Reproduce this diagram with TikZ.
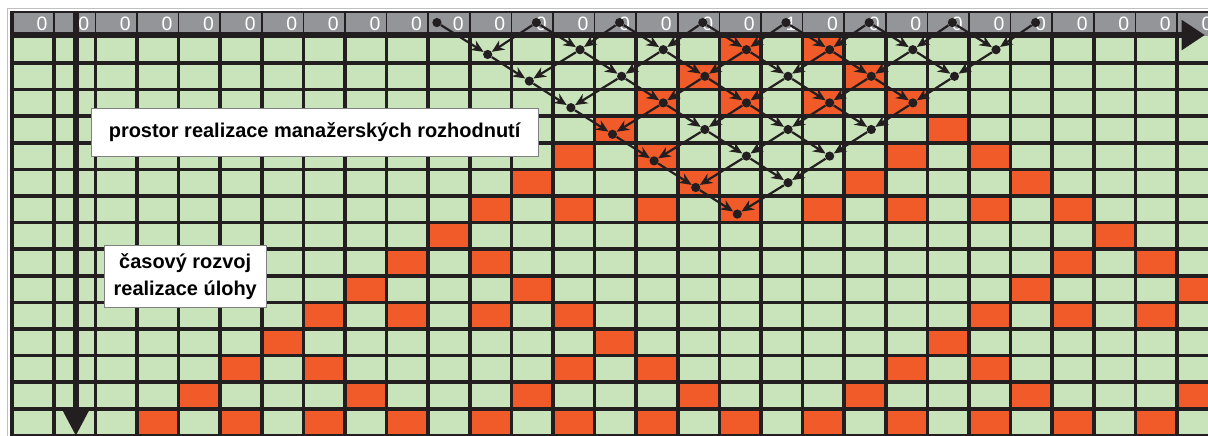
\documentclass[tikz,border=0pt]{standalone}
\usepackage{fontspec}
\setmainfont{Liberation Sans}
\usetikzlibrary{arrows.meta,positioning}
\definecolor{cellgreen}{RGB}{201,227,186}
\definecolor{cellorange}{RGB}{241,90,41}
\definecolor{headgray}{RGB}{147,149,152}
\definecolor{inkblack}{RGB}{35,31,32}

\begin{document}
\begin{tikzpicture}[x=1.04cm, y=-0.665cm,
    gridline/.style={inkblack, line width=0.09cm},
    sepline/.style={inkblack, line width=0.04cm},
    axis/.style={inkblack, line width=0.15cm},
    val/.style={text=white, font=\fontsize{13.8}{14}\selectfont, inner sep=0pt},
    dot/.style={circle, fill=inkblack, inner sep=0pt, minimum size=2.3mm},
    dep/.style={inkblack, line width=0.055cm, -{Stealth[length=3.1mm, width=2.7mm]}},
    note/.style={draw=gray, fill=white, line width=0.6pt, align=center,
        font=\fontsize{14.2}{19}\selectfont\bfseries}
]
\useasboundingbox (-0.293,-1.368) rectangle (28.745,15.02);
\clip (-0.293,-1.368) rectangle (28.745,15.02);

% cells
\fill[cellgreen] (0,0) rectangle (29,15.2);
\foreach \r/\cl in {0/{17,19}, 1/{16,20}, 2/{15,17,19,21}, 3/{14,22},
    4/{13,15,21,23}, 5/{12,16,20,24}, 6/{11,13,15,17,19,21,23,25},
    7/{10,26}, 8/{9,11,25,27}, 9/{8,12,24,28}, 10/{7,9,11,13,23,25,27},
    11/{6,14,22}, 12/{5,7,13,15,21,23}, 13/{4,8,12,16,20,24,28},
    14/{3,5,7,9,11,13,15,17,19,21,23,25,27}}
  \foreach \c in \cl
    \fill[cellorange] (\c,\r) rectangle ++(1,1);
\foreach \c in {0,...,29}
  \draw[gridline] (\c,0) -- (\c,15.2);
\foreach \r in {1,...,15}
  \draw[gridline] (0,\r) -- (29,\r);

% header row with the starting values
\draw[gray!50, line width=0.4pt] (-0.125,-1.07) rectangle (30,16);
\fill[headgray] (0,-0.92) rectangle (29,0);
\draw[sepline] (0,-0.92) -- (29,-0.92);
\foreach \c in {1,...,28}
  \draw[sepline] (\c,-0.92) -- (\c,0);
\draw[gridline] (0,-0.95) -- (0,0);
\foreach \c in {0,...,28}{
  \pgfmathtruncatemacro\v{\c==18}
  \node[val] (lab\c) at (\c+0.72,-0.47) {\v};
}

% axes
\coordinate (xfrom) at (0,-0.05);
\coordinate (xto) at (28.67,-0.05);
\draw[axis, -{Triangle[length=0.58cm, width=0.72cm]}] (xfrom) -- (xto);
\coordinate (yfrom) at (1.53,-0.95);
\coordinate (yto) at (1.53,15.02);
\draw[axis, -{Triangle[length=0.65cm, width=0.63cm]}] (yfrom) -- (yto);

% dependency cone
\foreach \L in {0,...,7}{
  \pgfmathtruncatemacro\kmax{7-\L}
  \foreach \k in {0,...,\kmax}{
    \pgfmathtruncatemacro\c{10+\L+2*\k}
    \ifnum\L=0
      \ifnum\k=0 \def\dx{0.21}\else\def\dx{0.6}\fi
      \def\dy{0.48}
    \else
      \ifnum\k=0 \def\dx{0.43}\def\dy{0.68}\else\def\dx{0.65}\def\dy{0.5}\fi
    \fi
    \node[dot] (v\L-\c) at (\c+\dx,\L-1+\dy) {};
  }
}
\foreach \L in {1,...,7}{
  \pgfmathtruncatemacro\kmax{7-\L}
  \pgfmathtruncatemacro\P{\L-1}
  \foreach \k in {0,...,\kmax}{
    \pgfmathtruncatemacro\c{10+\L+2*\k}
    \pgfmathtruncatemacro\cl{\c-1}
    \pgfmathtruncatemacro\cr{\c+1}
    \draw[dep] (v\P-\cl) -- (v\L-\c);
    \draw[dep] (v\P-\cr) -- (v\L-\c);
  }
}

% labels
\node[note, minimum width=11.18cm, minimum height=1.2cm] (space) at (7.27,3.6)
  {prostor realizace manažerských rozhodnutí};
\node[note, minimum width=4.05cm, minimum height=1.55cm] (time) at (4.16,9.04)
  {časový rozvoj\\realizace úlohy};
\end{tikzpicture}
\end{document}
